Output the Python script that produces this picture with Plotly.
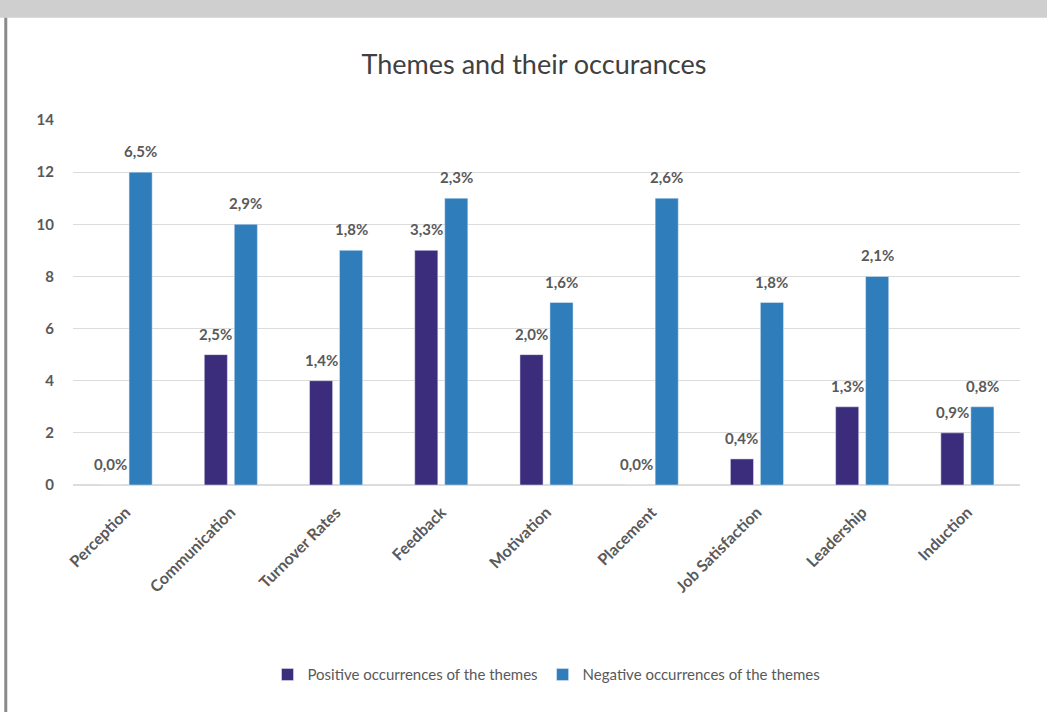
import plotly.graph_objects as go

categories = ["Perception", "Communication", "Turnover Rates", "Feedback", "Motivation",
              "Placement", "Job Satisfaction", "Leadership", "Induction"]
positive = [0, 5, 4, 9, 5, 0, 1, 3, 2]
negative = [12, 10, 9, 11, 7, 11, 7, 8, 3]
positive_labels = ["0,0%", "2,5%", "1,4%", "3,3%", "2,0%", "0,0%", "0,4%", "1,3%", "0,9%"]
negative_labels = ["6,5%", "2,9%", "1,8%", "2,3%", "1,6%", "2,6%", "1,8%", "2,1%", "0,8%"]

label_font = dict(family="Lato, Open Sans, sans-serif", size=15, color="#595959", weight="bold")

fig = go.Figure()
fig.add_trace(go.Bar(
    x=categories, y=positive, name="Positive occurrences of the themes",
    marker_color="#3c2d7c",
))
fig.add_trace(go.Bar(
    x=categories, y=negative, name="Negative occurrences of the themes",
    marker_color="#2f7dbb",
))

annotations = []
for cat, val, lab in zip(categories, positive, positive_labels):
    annotations.append(dict(x=cat, y=val, text=lab, showarrow=False, xref="x", yref="y",
                            xshift=-15, yshift=10, yanchor="bottom", font=label_font))
for cat, val, lab in zip(categories, negative, negative_labels):
    annotations.append(dict(x=cat, y=val, text=lab, showarrow=False, xref="x", yref="y",
                            xshift=15, yshift=10, yanchor="bottom", font=label_font))

fig.update_layout(
    width=1047, height=712,
    paper_bgcolor="white", plot_bgcolor="white",
    margin=dict(l=73, r=27, t=120, b=227),
    barmode="group", bargap=0.43, bargroupgap=0.23,
    title=dict(text="Themes and their occurances", x=0.51, xanchor="center",
               y=0.91, yanchor="middle",
               font=dict(family="Lato, Open Sans, sans-serif", size=27, color="#404040")),
    font=dict(family="Lato, Open Sans, sans-serif", color="#595959"),
    legend=dict(orientation="h", x=0.5, xanchor="center", y=-0.52, yanchor="middle",
                font=dict(size=15, color="#595959"), traceorder="normal",
                itemwidth=30),
    xaxis=dict(tickangle=-45, tickfont=dict(size=16, color="#595959", weight="bold"),
               showline=False, ticks="", ticklabelstandoff=14),
    yaxis=dict(range=[0, 14], dtick=2, gridcolor="#dcdcdc", gridwidth=1,
               zeroline=True, zerolinecolor="#dcdcdc",
               tickfont=dict(size=15, color="#595959", weight="bold"), ticks="",
               ticklabelstandoff=18),
    annotations=annotations,
    shapes=[
        dict(type="rect", xref="paper", yref="paper", x0=-0.08, x1=1.03, y0=1.28, y1=1.34,
             fillcolor="#cfcfcf", line=dict(width=0), layer="below"),
        dict(type="line", xref="paper", yref="paper", x0=-0.071, x1=-0.071, y0=-0.63, y1=1.28,
             line=dict(color="#8a8a8a", width=3)),
    ],
)

fig.write_html("out.html")
